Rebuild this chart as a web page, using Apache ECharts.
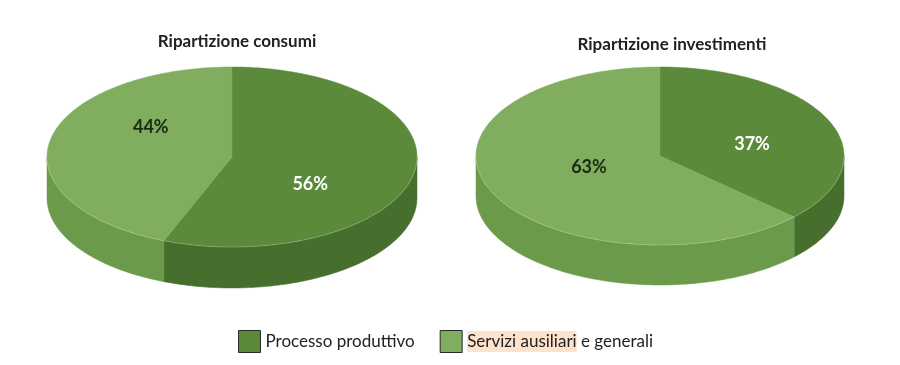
<!DOCTYPE html>
<html><head><meta charset="utf-8">
<script src="https://cdn.jsdelivr.net/npm/echarts@6/dist/echarts.min.js"></script>
<style>html,body{margin:0;padding:0;background:#fff}#c{width:900px;height:365px}</style>
</head><body><div id="c"></div>
<script>
// ---- data ----
const pieTitles = ['Ripartizione consumi', 'Ripartizione investimenti'];
const categories = ['Processo produttivo', 'Servizi ausiliari e generali'];
const processoProduttivo = [56, 37];
const serviziAusiliari = [44, 63];
const seriesValues = [processoProduttivo, serviziAusiliari];

// ---- layout / style ----
const pies = [
  { cx: 232, cy: 157, rx: 185, ry: 90, depth: 41 },
  { cx: 660, cy: 156, rx: 184, ry: 89, depth: 40 }
];
const topColors = ['#5b8a3a', '#80ad5e'];
const sideColors = ['#466e2c', '#6a9a4a'];
const labelColors = ['#ffffff', '#1c2a12'];
const labelNudge = [[[-9, 19], [6, -22]], [[11, 5], [10, -6]]]; // [pie][series]
const FONT = 'Lato, "Noto Sans", sans-serif';

function sliceAngles(s, p) {
  const vals = seriesValues.map(a => a[p]);
  const total = vals.reduce((a, b) => a + b, 0);
  let start = 0;
  for (let i = 0; i < s; i++) start += vals[i];
  return [start / total * 360, (start + vals[s]) / total * 360];
}
function pt(g, deg, dy) {
  const r = deg * Math.PI / 180;
  return [g.cx + g.rx * Math.sin(r), g.cy - g.ry * Math.cos(r) + (dy || 0)];
}
function arc(g, a0, a1, dy) {
  const out = [];
  const n = Math.max(2, Math.ceil(Math.abs(a1 - a0)));
  for (let i = 0; i <= n; i++) out.push(pt(g, a0 + (a1 - a0) * i / n, dy));
  return out;
}

function renderItem(params, api) {
  const s = params.seriesIndex, p = params.dataIndex;
  const g = pies[p];
  const [a0, a1] = sliceAngles(s, p);
  const children = [];
  const s0 = Math.max(a0, 90), s1 = Math.min(a1, 270);
  if (s0 < s1) {
    const pts = arc(g, s0, s1, 0).concat(arc(g, s1, s0, g.depth));
    children.push({ type: 'polygon', shape: { points: pts },
      style: { fill: sideColors[s], stroke: sideColors[s], lineWidth: 0.5 } });
  }
  const topPts = [[g.cx, g.cy]].concat(arc(g, a0, a1, 0));
  children.push({ type: 'polygon', shape: { points: topPts },
    style: { fill: topColors[s], stroke: topColors[s], lineWidth: 0.5 } });
  if (s0 < s1) {
    children.push({ type: 'polyline', shape: { points: arc(g, s0, s1, 0) },
      style: { fill: null, stroke: 'rgba(255,255,255,0.22)', lineWidth: 1 } });
  }
  const mid = (a0 + a1) / 2 * Math.PI / 180;
  const nud = labelNudge[p][s];
  const lx = g.cx + 0.48 * g.rx * Math.sin(mid) + nud[0];
  const ly = g.cy - 0.48 * g.ry * Math.cos(mid) + nud[1];
  children.push({ type: 'text', x: lx, y: ly,
    style: { text: api.value(0) + '%', fill: labelColors[s], font: 'bold 18px ' + FONT,
      align: 'center', verticalAlign: 'middle' } });
  return { type: 'group', children };
}

const chart = echarts.init(document.getElementById('c'), null, { renderer: 'canvas' });
chart.setOption({
  animation: false,
  title: [
    { text: pieTitles[0], left: 232, top: 28, textAlign: 'center',
      textStyle: { fontFamily: FONT, fontSize: 17, fontWeight: 'bold', color: '#222' } },
    { text: pieTitles[1], left: 667, top: 31, textAlign: 'center',
      textStyle: { fontFamily: FONT, fontSize: 17, fontWeight: 'bold', color: '#222' } }
  ],
  legend: {
    data: categories, left: 233, top: 325, itemWidth: 22, itemHeight: 22, itemGap: 25,
    icon: 'rect', selectedMode: false,
    itemStyle: { borderColor: '#2a2a2a', borderWidth: 1 },
    textStyle: { fontFamily: FONT, fontSize: 17, color: '#222',
      rich: { hl: { fontFamily: FONT, fontSize: 17, color: '#222', backgroundColor: '#fde3cb', padding: [2, 0, 2, 0] } } },
    formatter: name => name === categories[1] ? '{hl|Servizi ausiliari} e generali' : name
  },
  series: seriesValues.map((vals, s) => ({
    type: 'custom', name: categories[s], coordinateSystem: 'none',
    itemStyle: { color: topColors[s] },
    renderItem, data: vals.map(v => [v])
  }))
});
</script></body></html>
